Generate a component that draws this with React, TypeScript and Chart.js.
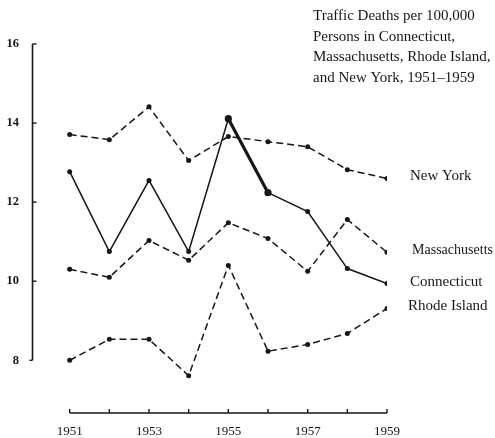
import { useEffect, useRef } from 'react';
import { Chart, registerables } from 'chart.js';

Chart.register(...registerables);

const FONT = '"Liberation Serif", "DejaVu Serif", serif';
const INK = '#161616';

const years = [1951, 1952, 1953, 1954, 1955, 1956, 1957, 1958, 1959];
const xTickLabels = [1951, 1953, 1955, 1957, 1959];
const yTicks = [8, 10, 12, 14, 16];

const newYork = [13.71, 13.58, 14.41, 13.05, 13.66, 13.53, 13.4, 12.82, 12.6];
const connecticut = [12.77, 10.75, 12.55, 10.75, 14.11, 12.24, 11.76, 10.32, 9.94];
const massachusetts = [10.3, 10.1, 11.03, 10.53, 11.48, 11.08, 10.25, 11.56, 10.73];
const rhodeIsland = [8.0, 8.53, 8.53, 7.61, 10.4, 8.23, 8.4, 8.68, 9.31];

const seriesNames = ['New York', 'Massachusetts', 'Connecticut', 'Rhode Island'];

const titleLines = [
  'Traffic Deaths per 100,000',
  'Persons in Connecticut,',
  'Massachusetts, Rhode Island,',
  'and New York, 1951\u20131959',
];

const framePlugin = {
  id: 'frame',
  beforeDatasetsDraw(chart: any) {
    const { ctx } = chart;
    const xs = chart.scales.x;
    const ys = chart.scales.y;
    ctx.save();
    ctx.strokeStyle = INK;
    ctx.lineWidth = 1.6;
    const ax = chart.chartArea.left + 0.5;
    const yTop = ys.getPixelForValue(yTicks[yTicks.length - 1]);
    const yBot = ys.getPixelForValue(yTicks[0]);
    ctx.beginPath();
    ctx.moveTo(ax, yTop);
    ctx.lineTo(ax, yBot);
    ctx.stroke();
    ctx.lineWidth = 1.4;
    yTicks.forEach((v, i) => {
      const py = ys.getPixelForValue(v);
      ctx.beginPath();
      if (i === 0) {
        ctx.moveTo(ax, py);
        ctx.lineTo(ax - 3, py);
      } else {
        ctx.moveTo(ax, py);
        ctx.lineTo(ax + 4, py);
      }
      ctx.stroke();
    });
    const by = chart.chartArea.bottom;
    const xl = xs.getPixelForValue(years[0]);
    const xr = xs.getPixelForValue(years[years.length - 1]);
    ctx.lineWidth = 1.6;
    ctx.beginPath();
    ctx.moveTo(xl, by);
    ctx.lineTo(xr, by);
    ctx.stroke();
    ctx.lineWidth = 1.4;
    years.forEach((v) => {
      const px = xs.getPixelForValue(v);
      ctx.beginPath();
      ctx.moveTo(px, by);
      ctx.lineTo(px, by - 4);
      ctx.stroke();
    });
    ctx.restore();
  },
  afterDraw(chart: any) {
    const { ctx } = chart;
    ctx.save();
    ctx.fillStyle = INK;
    ctx.textAlign = 'left';
    ctx.textBaseline = 'alphabetic';
    ctx.font = `15px ${FONT}`;
    titleLines.forEach((line, i) => {
      ctx.fillText(line, 313, 20 + i * 20.5);
    });
    const ys = chart.scales.y;
    const labelX = [410, 412, 410, 408];
    const labelW = [70, 81, 76, 80];
    chart.data.datasets.forEach((ds: any, i: number) => {
      const last = ds.data[ds.data.length - 1];
      const py = ys.getPixelForValue(last.y);
      ctx.fillText(seriesNames[i], labelX[i], py + 2, labelW[i]);
    });
    ctx.restore();
  },
};

export default function App() {
  const ref = useRef<HTMLCanvasElement>(null);
  useEffect(() => {
    if (!ref.current) return;
    const toPts = (vals: number[]) => years.map((yr, i) => ({ x: yr, y: vals[i] }));
    const dash = [7, 4];
    const base = {
      borderColor: INK,
      backgroundColor: INK,
      pointBackgroundColor: INK,
      pointBorderColor: INK,
      pointBorderWidth: 0,
      tension: 0,
      fill: false,
    };
    const chart = new Chart(ref.current, {
      type: 'line',
      data: {
        datasets: [
          { ...base, label: seriesNames[0], data: toPts(newYork), borderWidth: 1.5, borderDash: dash, pointRadius: 2.5 },
          { ...base, label: seriesNames[1], data: toPts(massachusetts), borderWidth: 1.5, borderDash: dash, pointRadius: 2.5 },
          {
            ...base,
            label: seriesNames[2],
            data: toPts(connecticut),
            borderWidth: 1.5,
            segment: { borderWidth: (c: any) => (c.p0DataIndex === 4 ? 3.2 : 1.5) },
            pointRadius: connecticut.map((_, i) => (i === 4 || i === 5 ? 3.6 : 2.5)),
          },
          { ...base, label: seriesNames[3], data: toPts(rhodeIsland), borderWidth: 1.5, borderDash: dash, pointRadius: 2.5 },
        ],
      } as any,
      options: {
        responsive: false,
        animation: false,
        layout: { padding: { top: 42, right: 108, left: 0, bottom: 0 } },
        plugins: { legend: { display: false }, tooltip: { enabled: false }, title: { display: false } },
        scales: {
          x: {
            type: 'linear',
            min: 1950.05,
            max: 1959,
            afterBuildTicks: (s: any) => {
              s.ticks = years.map((v) => ({ value: v }));
            },
            afterFit: (s: any) => {
              s.height = 25;
            },
            grid: { display: false, drawTicks: false },
            border: { display: false },
            ticks: {
              autoSkip: false,
              maxRotation: 0,
              padding: 11,
              color: INK,
              font: { family: FONT, size: 13 },
              callback: (v: any) => (xTickLabels.includes(Number(v)) ? String(v) : ''),
            },
          },
          y: {
            type: 'linear',
            min: 6.667,
            max: 16.05,
            afterBuildTicks: (s: any) => {
              s.ticks = yTicks.map((v) => ({ value: v }));
            },
            afterFit: (s: any) => {
              s.width = 32;
            },
            grid: { display: false, drawTicks: false },
            border: { display: false },
            ticks: {
              padding: 13,
              color: INK,
              font: { family: FONT, size: 12.5, weight: 'bold' },
              callback: (v: any) => String(v),
            },
          },
        },
      } as any,
      plugins: [framePlugin],
    });
    return () => chart.destroy();
  }, []);
  return (
    <div style={{ position: 'fixed', left: 0, top: 0, width: 495, height: 438, background: '#fff' }}>
      <canvas ref={ref} width={495} height={438} style={{ display: 'block' }} />
    </div>
  );
}
